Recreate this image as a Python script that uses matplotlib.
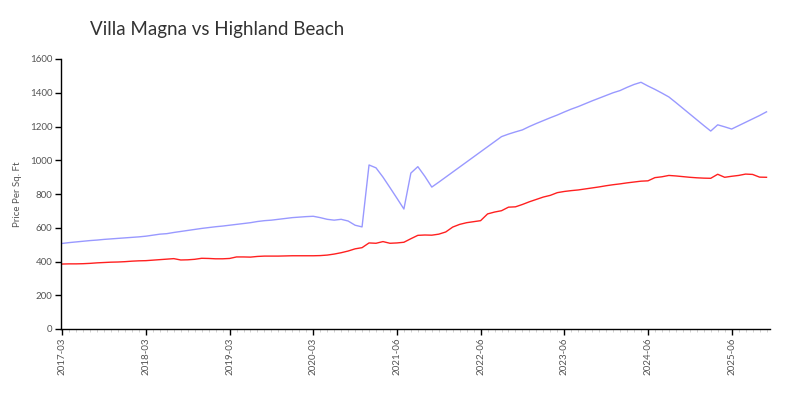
import matplotlib
matplotlib.use("Agg")
import matplotlib.pyplot as plt
from matplotlib.ticker import MultipleLocator, FixedLocator, FixedFormatter

title = "Villa Magna vs Highland Beach"
y_label = "Price Per Sq. Ft"
tick_labels = ["2017-03", "2018-03", "2019-03", "2020-03", "2021-06",
               "2022-06", "2023-06", "2024-06", "2025-06"]

villa_magna = [507, 512, 516, 520, 524, 527, 531, 534, 537, 540, 543, 546,
               550, 556, 562, 565, 572, 578, 584, 590, 596, 601, 606, 610,
               615, 620, 625, 630, 637, 642, 645, 650, 655, 660, 663, 666,
               668, 660, 650, 645, 650, 640, 615, 605, 972, 955, 900, 838,
               775, 711, 924, 962, 905, 841, 870, 900, 930, 960, 990, 1020,
               1050, 1080, 1110, 1140, 1155, 1168, 1180, 1200, 1218, 1235, 1252, 1268,
               1286, 1303, 1318, 1335, 1352, 1368, 1384, 1400, 1413, 1432, 1449, 1462,
               1440, 1420, 1398, 1375, 1342, 1308, 1274, 1240, 1206, 1173, 1210, 1198,
               1185, 1205, 1225, 1245, 1265, 1287]

highland_beach = [385, 386, 386, 387, 389, 392, 394, 396, 397, 399, 402, 404,
                  405, 408, 411, 414, 417, 409, 410, 413, 419, 418, 416, 416,
                  418, 427, 427, 426, 430, 432, 432, 432, 433, 434, 434, 434,
                  434, 435, 438, 444, 452, 462, 475, 482, 510, 508, 518, 508,
                  510, 514, 535, 555, 557, 556, 562, 575, 604, 620, 630, 636,
                  642, 682, 693, 701, 722, 724, 738, 754, 768, 782, 792, 808,
                  815, 820, 824, 830, 836, 842, 849, 855, 860, 866, 871, 876,
                  878, 897, 902, 910, 907, 903, 899, 896, 894, 893, 917, 899,
                  905, 910, 918, 916, 900, 899]

font = "Lato"
txt_col = "#555555"

fig = plt.figure(figsize=(8, 4), dpi=100)
ax = fig.add_axes([0.076, 0.1775, 0.8865, 0.675])
x = list(range(len(villa_magna)))
ax.plot(x, villa_magna, color="#9999ff", lw=1.0)
ax.plot(x, highland_beach, color="#ff2020", lw=1.0)

ax.set_xlim(-0.2, 101.5)
ax.set_ylim(0, 1600)
ax.yaxis.set_major_locator(MultipleLocator(200))
ax.xaxis.set_major_locator(FixedLocator([12 * i for i in range(len(tick_labels))]))
ax.xaxis.set_major_formatter(FixedFormatter(tick_labels))
ax.xaxis.set_minor_locator(MultipleLocator(1))

for s in ["top", "right"]:
    ax.spines[s].set_visible(False)
for s in ["left", "bottom"]:
    ax.spines[s].set_color("black")
    ax.spines[s].set_linewidth(1.0)

ax.tick_params(axis="both", which="major", length=4, width=1, color="black",
               labelsize=7, labelcolor=txt_col, pad=2)
ax.tick_params(axis="x", which="minor", length=2, width=0.6, color="#cccccc")
for lab in ax.get_xticklabels():
    lab.set_rotation(90)
    lab.set_fontfamily(font)
for lab in ax.get_yticklabels():
    lab.set_fontfamily(font)

ax.set_ylabel(y_label, fontsize=7, color=txt_col, family=font, labelpad=6)
fig.text(0.1125, 0.925, title, fontsize=13.5, color="#333333", family=font,
         ha="left", va="center")

fig.savefig("out.png", dpi=100, facecolor="white")
